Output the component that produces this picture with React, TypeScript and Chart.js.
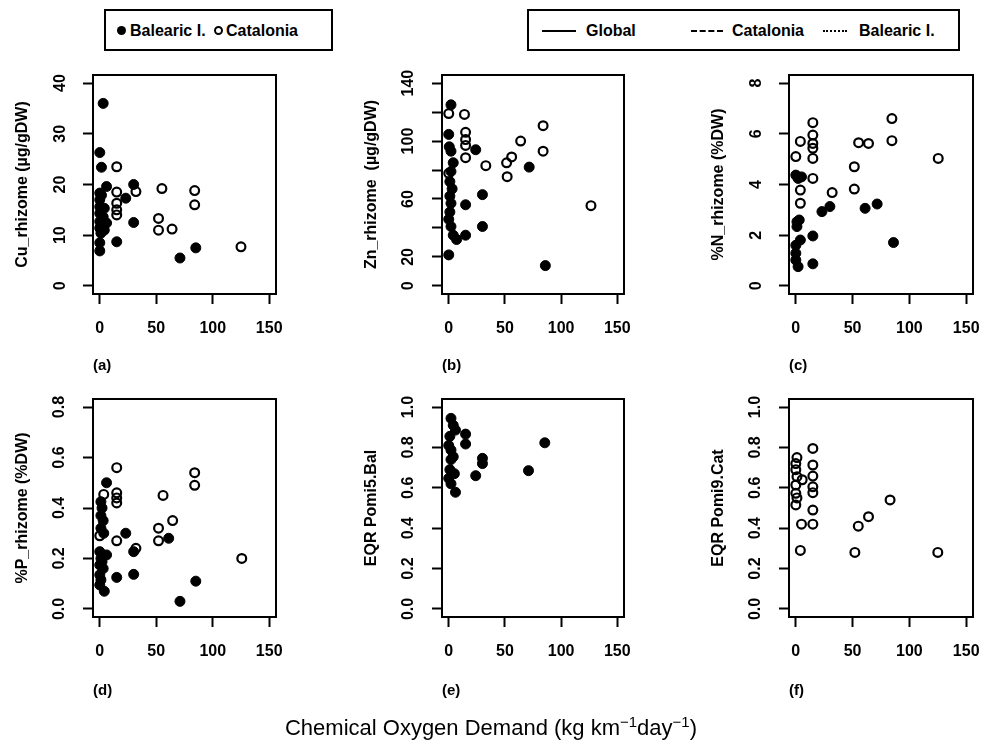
import React, { useEffect, useRef } from "react";
import { Chart, registerables } from "chart.js";

Chart.register(...registerables);

const FONT = '"Liberation Sans", Arial, Helvetica, sans-serif';

// ---- tick values ----
const xTicks = [0, 50, 100, 150];
const cuTicks = [0, 10, 20, 30, 40];
const znTicks = [0, 20, 40, 60, 80, 100, 120, 140];
const znLabelled = [0, 20, 60, 100, 140];
const nTicks = [0, 2, 4, 6, 8];
const pTicks = [0, 0.2, 0.4, 0.6, 0.8];
const eqrTicks = [0, 0.2, 0.4, 0.6, 0.8, 1.0];

// ---- data: [COD, value] ----
const cuBalearic = [[3, 36], [0, 26.3], [1.5, 23.4], [6, 19.6], [0, 18.3], [1.5, 17.9], [0, 17], [0, 15.6], [4, 15.3], [0, 14.3], [3, 13.6], [0, 12.7], [6, 12.4], [0, 11.4], [4, 11], [1, 10.4], [30, 20], [23, 17.3], [30, 12.5], [15, 8.7], [0, 8.5], [0, 6.9], [71, 5.5], [85, 7.5]];
const cuCatalonia = [[15, 23.5], [15, 18.5], [15, 16.3], [15, 15], [15, 14], [32, 18.6], [55, 19.2], [52, 13.3], [52, 11], [64, 11.2], [84, 18.8], [84, 16], [125, 7.7]];

const znBalearic = [[2, 125], [0, 104.6], [0.5, 96], [2, 93], [4, 85], [2, 79], [1, 72], [3, 67], [1, 62], [2, 57], [1, 51], [0, 46], [2, 41], [4, 35], [7, 32], [0, 21.4], [15, 56], [15, 35], [24, 94], [30, 63], [30, 41], [71.6, 82], [86, 14]];
const znCatalonia = [[0, 119], [0, 77.7], [14, 118.4], [15, 106], [15, 101], [15, 97], [15, 88.5], [33, 83], [51.5, 85], [52, 75.4], [56, 89], [64, 100], [84, 110.6], [84, 93], [126.6, 55.4]];

const nBalearic = [[0, 4.37], [2, 4.24], [5, 4.3], [1, 2.53], [1, 2.34], [3, 2.6], [4, 1.81], [0, 1.6], [0, 1.29], [0, 1.02], [2, 0.76], [15, 1.97], [15, 0.87], [23, 2.93], [30, 3.13], [61, 3.06], [71.6, 3.23], [86, 1.71]];
const nCatalonia = [[4, 5.7], [0, 5.1], [4, 3.78], [4, 3.26], [15, 6.44], [15, 5.95], [15, 5.62], [15, 5.43], [15, 5.03], [15, 4.24], [32, 3.68], [51.5, 4.7], [51.5, 3.82], [55.3, 5.65], [64, 5.62], [84.6, 6.6], [84.6, 5.73], [125.4, 5.03]];

const pBalearic = [[6, 0.5], [1, 0.425], [2, 0.4], [1, 0.37], [3, 0.35], [1, 0.32], [3.5, 0.3], [0, 0.227], [6, 0.214], [1, 0.2], [2, 0.187], [0, 0.174], [3, 0.16], [0, 0.135], [1, 0.115], [0, 0.095], [4, 0.07], [15, 0.125], [23, 0.3], [30, 0.227], [30, 0.137], [61, 0.28], [71, 0.03], [85, 0.11]];
const pCatalonia = [[3.5, 0.454], [0, 0.29], [15, 0.56], [15, 0.46], [15, 0.44], [15, 0.42], [15, 0.27], [32, 0.24], [56, 0.45], [52, 0.32], [52, 0.27], [64.5, 0.35], [84, 0.54], [84, 0.49], [125.7, 0.2]];

const eqrBalearic = [[2, 0.944], [4, 0.91], [6, 0.886], [1, 0.855], [0, 0.81], [2, 0.787], [4, 0.754], [2, 0.74], [1, 0.69], [5, 0.67], [0, 0.647], [2, 0.62], [6, 0.578], [15, 0.866], [15, 0.817], [24, 0.66], [30, 0.746], [30, 0.72], [71, 0.685], [85.5, 0.823]];
const eqrCatalonia = [[1, 0.75], [0, 0.72], [0, 0.69], [1, 0.655], [5.6, 0.64], [0, 0.614], [0, 0.573], [1, 0.55], [0, 0.515], [5, 0.42], [4, 0.29], [15, 0.795], [15, 0.713], [15, 0.658], [15, 0.605], [15, 0.576], [15, 0.49], [15, 0.42], [52, 0.28], [55, 0.41], [64, 0.457], [83, 0.54], [125, 0.28]];

const boxPlugin = {
  id: "rbox",
  afterDraw(chart: any) {
    const { ctx, chartArea: a } = chart;
    ctx.save();
    ctx.strokeStyle = "#000";
    ctx.lineWidth = 2;
    ctx.strokeRect(a.left, a.top, a.right - a.left, a.bottom - a.top);
    ctx.restore();
  },
};

type PanelProps = {
  left: number;
  top: number;
  width: number;
  height: number;
  padTop: number;
  padRight: number;
  yAxisW: number;
  xAxisH: number;
  label: string;
  yTitle: string;
  yTicks: number[];
  yLabelled?: number[];
  yMax: number;
  decimals: number;
  yPad: number;
  bal: number[][];
  cat: number[][];
};

function Panel(p: PanelProps) {
  const ref = useRef<HTMLCanvasElement | null>(null);
  useEffect(() => {
    if (!ref.current) return;
    const ext = p.yMax * 0.04;
    const tickFont = { family: FONT, size: 16, weight: "bold" as const };
    const chart = new Chart(ref.current, {
      type: "scatter",
      data: {
        datasets: [
          {
            label: "Catalonia",
            data: p.cat.map(([x, y]) => ({ x, y })),
            pointRadius: 4.4,
            pointBorderWidth: 2.2,
            pointBorderColor: "#000",
            pointBackgroundColor: "rgba(0,0,0,0)",
          },
          {
            label: "Balearic I.",
            data: p.bal.map(([x, y]) => ({ x, y })),
            pointRadius: 5,
            pointBorderWidth: 1,
            pointBorderColor: "#000",
            pointBackgroundColor: "#000",
          },
        ],
      },
      options: {
        responsive: false,
        maintainAspectRatio: false,
        animation: false,
        layout: { padding: { top: p.padTop, right: p.padRight, bottom: 0, left: 0 } },
        plugins: { legend: { display: false }, tooltip: { enabled: false } },
        scales: {
          x: {
            type: "linear",
            position: "bottom",
            min: -6,
            max: 156,
            afterBuildTicks: (s: any) => {
              s.ticks = xTicks.map((v) => ({ value: v }));
            },
            afterFit: (s: any) => {
              s.height = p.xAxisH;
              s.paddingLeft = 0;
              s.paddingRight = 0;
            },
            grid: { display: true, drawOnChartArea: false, drawTicks: true, tickLength: 10, tickWidth: 2, tickColor: "#000" },
            border: { display: true, color: "#000", width: 2 },
            ticks: {
              color: "#000",
              font: tickFont,
              padding: 15,
              autoSkip: false,
              maxRotation: 0,
              minRotation: 0,
              callback: (v: any) => String(v),
            },
            title: {
              display: true,
              text: p.label,
              align: "start",
              color: "#000",
              font: { family: FONT, size: 15, weight: "bold" },
              padding: { top: 0, bottom: 10 },
            },
          },
          y: {
            type: "linear",
            position: "left",
            min: -ext,
            max: p.yMax + ext,
            afterBuildTicks: (s: any) => {
              s.ticks = p.yTicks.map((v) => ({ value: v }));
            },
            afterFit: (s: any) => {
              s.width = p.yAxisW;
              s.paddingTop = 0;
              s.paddingBottom = 0;
            },
            grid: { display: true, drawOnChartArea: false, drawTicks: true, tickLength: 10, tickWidth: 2, tickColor: "#000" },
            border: { display: true, color: "#000", width: 2 },
            ticks: {
              color: "#000",
              font: tickFont,
              padding: p.yPad,
              autoSkip: false,
              minRotation: 90,
              maxRotation: 90,
              crossAlign: "center",
              callback: (v: any) => {
                const n = Number(v);
                if (p.yLabelled && !p.yLabelled.some((q) => Math.abs(q - n) < 1e-9)) return "";
                return n.toFixed(p.decimals);
              },
            },
            title: {
              display: true,
              text: p.yTitle,
              color: "#000",
              font: { family: FONT, size: 16, weight: "bold" },
              padding: { top: 13, bottom: 0 },
            },
          },
        },
      },
      plugins: [boxPlugin],
    });
    return () => chart.destroy();
  }, []);
  return (
    <canvas
      ref={ref}
      width={p.width}
      height={p.height}
      style={{ position: "absolute", left: p.left, top: p.top, width: p.width, height: p.height }}
    />
  );
}

const row1 = { top: 60, height: 325, padTop: 15, xAxisH: 91 };
const row2 = { top: 385, height: 325, padTop: 14, xAxisH: 93 };
const colA = { left: 0, width: 300, padRight: 24, yAxisW: 93 };
const colB = { left: 349, width: 300, padRight: 25, yAxisW: 93 };
const colC = { left: 696, width: 286, padRight: 9, yAxisW: 93 };

const legendText: React.CSSProperties = { fontFamily: FONT, fontWeight: "bold", fontSize: 16, color: "#000", position: "absolute", top: 10, lineHeight: "20px", whiteSpace: "nowrap" };

export default function App() {
  return (
    <div style={{ position: "absolute", left: 0, top: 0, width: 982, height: 745, background: "#fff", overflow: "hidden" }}>
      {/* point legend */}
      <div style={{ position: "absolute", left: 104, top: 9, width: 225, height: 38, border: "2px solid #000" }}>
        <span style={{ position: "absolute", left: 11, top: 15, width: 9, height: 9, borderRadius: "50%", background: "#000" }} />
        <span style={{ ...legendText, left: 24 }}>Balearic I.</span>
        <span style={{ position: "absolute", left: 108, top: 15, width: 5, height: 5, borderRadius: "50%", border: "2px solid #000" }} />
        <span style={{ ...legendText, left: 120 }}>Catalonia</span>
      </div>
      {/* line legend */}
      <div style={{ position: "absolute", left: 527, top: 9, width: 429, height: 38, border: "2px solid #000" }}>
        <span style={{ position: "absolute", left: 13, top: 19, width: 34, borderTop: "2px solid #000" }} />
        <span style={{ ...legendText, left: 57 }}>Global</span>
        <span style={{ position: "absolute", left: 162, top: 19, width: 32, borderTop: "2px dashed #000" }} />
        <span style={{ ...legendText, left: 203 }}>Catalonia</span>
        <span style={{ position: "absolute", left: 294, top: 19, width: 24, borderTop: "2px dotted #000" }} />
        <span style={{ ...legendText, left: 330 }}>Balearic I.</span>
      </div>

      <Panel {...row1} {...colA} label="(a)" yTitle="Cu_rhizome (µg/gDW)" yTicks={cuTicks} yMax={40} decimals={0} yPad={14} bal={cuBalearic} cat={cuCatalonia} />
      <Panel {...row1} {...colB} label="(b)" yTitle="Zn_rhizome  (µg/gDW)" yTicks={znTicks} yLabelled={znLabelled} yMax={140} decimals={0} yPad={10} bal={znBalearic} cat={znCatalonia} />
      <Panel {...row1} {...colC} label="(c)" yTitle="%N_rhizome (%DW)" yTicks={nTicks} yMax={8} decimals={0} yPad={18} bal={nBalearic} cat={nCatalonia} />
      <Panel {...row2} {...colA} label="(d)" yTitle="%P_rhizome (%DW)" yTicks={pTicks} yMax={0.8} decimals={1} yPad={12} bal={pBalearic} cat={pCatalonia} />
      <Panel {...row2} {...colB} label="(e)" yTitle="EQR Pomi5.Bal" yTicks={eqrTicks} yMax={1.0} decimals={1} yPad={12} bal={eqrBalearic} cat={[]} />
      <Panel {...row2} {...colC} label="(f)" yTitle="EQR Pomi9.Cat" yTicks={eqrTicks} yMax={1.0} decimals={1} yPad={12} bal={[]} cat={eqrCatalonia} />

      <div style={{ position: "absolute", left: 0, top: 708, width: 982, textAlign: "center", fontFamily: FONT, fontSize: 22, lineHeight: "28px", color: "#000" }}>
        Chemical Oxygen Demand (kg km<sup style={{ fontSize: 15 }}>−1</sup>day<sup style={{ fontSize: 15 }}>−1</sup>)
      </div>
    </div>
  );
}
